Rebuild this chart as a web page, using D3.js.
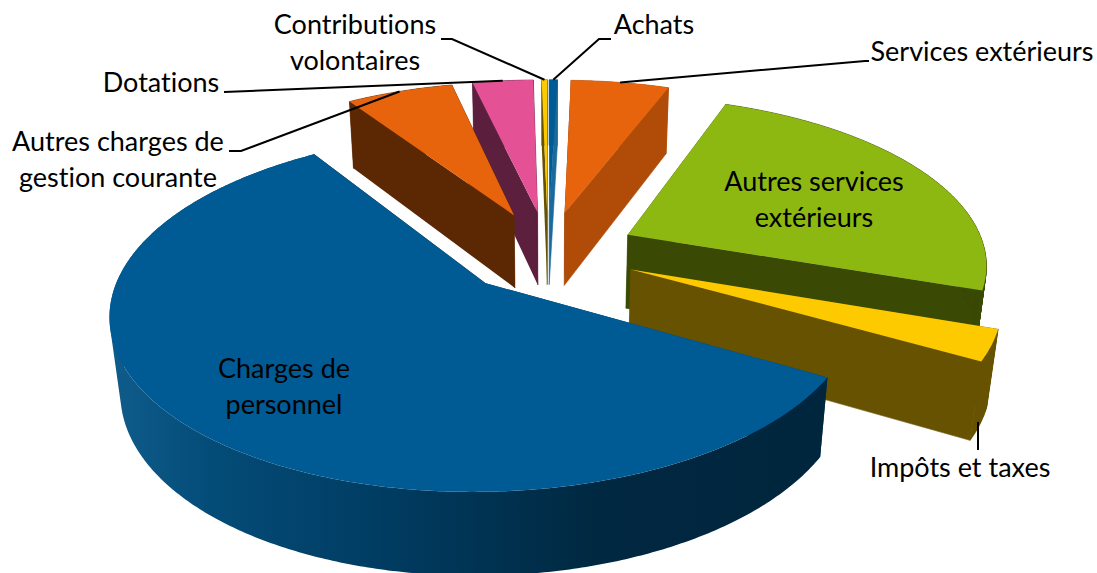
<!DOCTYPE html>
<html>
<head>
<meta charset="utf-8">
<script src="https://cdnjs.cloudflare.com/ajax/libs/d3/7.8.5/d3.min.js"></script>
<style>
  html, body { margin: 0; padding: 0; background: #fff; overflow: hidden; }
  text { font-family: Lato, sans-serif; font-size: 27px; fill: #000; font-variant-ligatures: none; }
</style>
</head>
<body>
<div class="canvas"></div>
<script>
// values in percent, clockwise from the top of the pie
const categories = ['Achats', 'Services extérieurs', 'Autres services extérieurs', 'Impôts et taxes',
  'Charges de personnel', 'Autres charges de gestion courante', 'Dotations', 'Contributions volontaires'];
const values = [0.45, 5.25, 24.6, 2.9, 57.35, 5.7, 3.25, 0.3];

const topColors = ['#005b94', '#e8640c', '#8db811', '#fdca00', '#005b94', '#e8640c', '#e45295', '#fdca00'];
const startWallColors = ['#003a60', '#5c2803', '#3a4a05', '#665200', '#003a60', '#5c2803', '#5c1f3e', '#665200'];
const endWallColors = ['#1a6a9c', '#b04c08', '#3a4a05', '#665200', '#00263e', '#5c2803', '#5c1f3e', '#665200'];

const width = 1097, height = 573;
const svg = d3.select('.canvas').append('svg').attr('width', width).attr('height', height)
  .style('display', 'block');

// the pie lies on a plane seen in perspective, exploded by a fraction of the radius
const cx = 548, cy = 252, R = 358, V = 165, D = 76;
const k = 0.158, m = 0.024, explode = 0.25;

const project = (X, Y, Z) => {
  const w = 1 + k * Y + m * Z; // Z: 0 top face, 1 bottom face
  return [cx + R * X / w, cy + (-V * Y + D * Z) / w];
};

const pie = d3.pie().sort(null).value(d => d).startAngle(0).endAngle(2 * Math.PI);
const arcs = pie(values).map((a, i) => ({...a, i, mid: (a.startAngle + a.endAngle) / 2}));

const apex = d => [explode * Math.sin(d.mid), explode * Math.cos(d.mid)];
const rimPoint = (d, a, Z) => {
  const [ax, ay] = apex(d);
  return project(ax + Math.sin(a), ay + Math.cos(a), Z);
};
const anglesOf = d => {
  const n = Math.max(2, Math.ceil((d.endAngle - d.startAngle) / 0.01));
  return d3.range(n + 1).map(j => d.startAngle + (d.endAngle - d.startAngle) * j / n);
};

const line = d3.line();
const closed = pts => line(pts) + 'Z';

// outer wall as one path of same-way-round quads, a plain ribbon folds at the pie's side and leaves holes
const rimPath = d => d3.pairs(anglesOf(d)).map(p => {
  const quad = [rimPoint(d, p[0], 0), rimPoint(d, p[1], 0), rimPoint(d, p[1], 1), rimPoint(d, p[0], 1)];
  return closed(d3.polygonArea(quad) < 0 ? quad.reverse() : quad);
}).join('');

// shading on the big slice's rim
const grad = svg.append('defs').append('linearGradient').attr('id', 'rimBlue')
  .attr('gradientUnits', 'userSpaceOnUse').attr('x1', 110).attr('x2', 832).attr('y1', 0).attr('y2', 0);
[[0, '#0f5c8b'], [0.14, '#044c78'], [0.38, '#003c62'], [0.68, '#002840'], [1, '#00263e']].forEach(s => {
  grad.append('stop').attr('offset', s[0]).attr('stop-color', s[1]);
});

// far slices first, the front ones paint over them
const drawOrder = arcs.slice().sort((a, b) => Math.cos(b.mid) - Math.cos(a.mid));

const slices = svg.append('g').selectAll('g').data(drawOrder).enter().append('g');

slices.each(function(d) {
  const g = d3.select(this);
  const [ax, ay] = apex(d);
  const aTop = project(ax, ay, 0), aBot = project(ax, ay, 1);
  const big = d.i === 4;

  // side walls
  g.append('path')
    .attr('d', closed([aTop, rimPoint(d, d.startAngle, 0), rimPoint(d, d.startAngle, 1), aBot]))
    .attr('fill', startWallColors[d.i]);
  g.append('path')
    .attr('d', closed([aTop, rimPoint(d, d.endAngle, 0), rimPoint(d, d.endAngle, 1), aBot]))
    .attr('fill', endWallColors[d.i])
    .attr('stroke', endWallColors[d.i]).attr('stroke-width', 0.6);

  g.append('path').attr('d', rimPath(d))
    .attr('fill', big ? 'url(#rimBlue)' : endWallColors[d.i])
    .attr('stroke', big ? 'none' : endWallColors[d.i]).attr('stroke-width', 0.6);

  // top face
  g.append('path').attr('d', closed([aTop].concat(anglesOf(d).map(a => rimPoint(d, a, 0)))))
    .attr('fill', topColors[d.i]);
});

// labels
const labelLines = [['Achats'], ['Services extérieurs'], ['Autres services', 'extérieurs'], ['Impôts et taxes'],
  ['Charges de', 'personnel'], ['Autres charges de', 'gestion courante'], ['Dotations'], ['Contributions', 'volontaires']];
const labelX = [654, 982, 814, 960, 284, 118, 161, 355];
const labelY = [34, 61, 191, 477, 378, 151, 92, 34];
const lineGap = 35.5;

// leader lines: arc middle -> elbow -> end, null when the label sits on its slice
const leaders = [
  [[599, 39], [611, 39]],
  [[865, 61], [869, 61]],
  null,
  [[978, 422], [978, 450]],
  null,
  [[241, 151], [229, 151]],
  [[224, 92]],
  [[452, 39], [441, 39]]
];

arcs.forEach(d => {
  const pts = leaders[d.i];
  if (!pts) return;
  const path = d.i === 3 ? pts : [rimPoint(d, d.mid, 0)].concat(pts);
  svg.append('path').attr('d', line(path)).attr('fill', 'none')
    .attr('stroke', '#000').attr('stroke-width', 2);
});

const labels = svg.append('g').selectAll('text').data(arcs).enter().append('text')
  .attr('text-anchor', 'middle')
  .attr('x', d => labelX[d.i])
  .attr('y', d => labelY[d.i]);
labels.selectAll('tspan').data(d => labelLines[d.i].map((t, j) => ({t, j, i: d.i}))).enter().append('tspan')
  .attr('x', d => labelX[d.i])
  .attr('dy', d => d.j ? lineGap : 0)
  .text(d => d.t);
</script>
</body>
</html>
